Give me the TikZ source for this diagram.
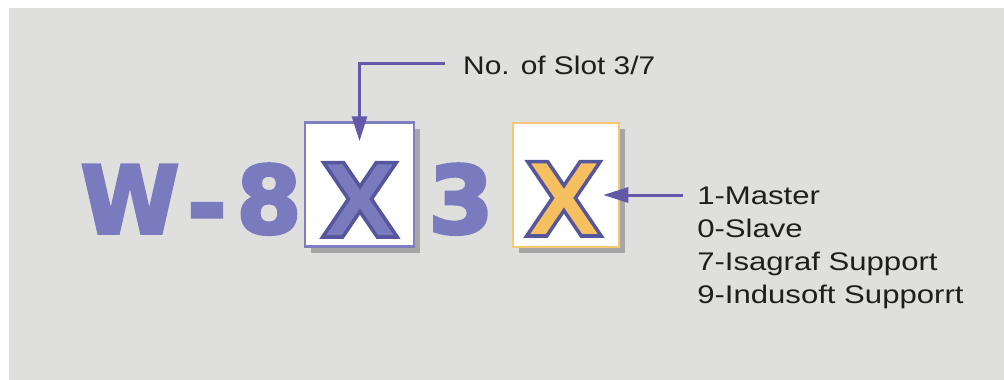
\documentclass[tikz,border=0pt]{standalone}
\usepackage{fontspec}
\setmainfont{Liberation Sans}
\newfontfamily\heavyfont{DejaVu Sans}
\usetikzlibrary{arrows.meta,shadows}
\definecolor{bg}{HTML}{DFDFDD}
\definecolor{blu}{HTML}{7A7ABE}
\definecolor{bluline}{HTML}{56569C}
\definecolor{bluborder}{HTML}{7E7EC0}
\definecolor{orfill}{HTML}{F6BF60}
\definecolor{orline}{HTML}{F7C873}
\definecolor{arrowc}{HTML}{6459A8}
\definecolor{shadowc}{HTML}{A6A6A6}
\definecolor{txt}{HTML}{1E1E1E}
\newcommand{\outlined}[1]{\special{pdf:literal direct 2 Tr 3.5 w 0.337 0.337 0.612 RG}#1}
\newcommand{\heavy}[1]{\special{pdf:literal direct 2 Tr 3.5 w 0.478 0.478 0.745 RG}#1}
\begin{document}
\begin{tikzpicture}[x=1pt,y=-1pt,
  big/.style={inner sep=0pt,anchor=base,text=blu,font=\fontsize{93}{93}\selectfont\heavyfont\bfseries},
  bigx/.style={inner sep=0pt,anchor=base,font=\fontsize{102}{102}\selectfont\heavyfont\bfseries},
  slotbox/.style={minimum width=#1,minimum height=124pt,inner sep=0pt,fill=white,line width=2.5pt,
    drop shadow={shadow xshift=6pt,shadow yshift=-6pt,fill=shadowc,opacity=1}},
  lbl/.style={inner sep=0pt,anchor=base west,text=txt,font=\fontsize{25.5}{33}\selectfont,xscale=1.22},
  arr/.style={draw=arrowc,line width=3pt,-{Triangle[length=25pt,width=15pt]}}]
\useasboundingbox (0,0) rectangle (1004,380);
\fill[white] (0,0) rectangle (1004,380);
\fill[bg] (9,8) rectangle (1004,380);
% big characters
\node[big,xscale=0.96] (w) at (130,233) {\heavy{W}};
\node[big] (dash) at (207,237) {\heavy{-}};
\node[big] (eight) at (269,233) {\heavy{8}};
\node[big] (three) at (461,233) {\heavy{3}};
% boxes
\node[slotbox=109pt,draw=bluborder] (box1) at (359.5,184.5) {};
\node[slotbox=106pt,draw=orline] (box2) at (566,185) {};
\node[bigx,text=blu] (x1) at (360,237) {\outlined{X}};
\node[bigx,text=orfill] (x2) at (564,236) {\outlined{X}};
% labels
\node[lbl,xscale=0.96] (slot) at (463,74) {No. of Slot 3/7};
\node[lbl] (l1) at (697,204) {1-Master};
\node[lbl] (l2) at (697,237) {0-Slave};
\node[lbl] (l3) at (697,270) {7-Isagraf Support};
\node[lbl] (l4) at (697,303) {9-Indusoft Supporrt};
% arrows
\draw[arr] ([xshift=-18pt,yshift=1pt]slot.west) -| ([yshift=-20pt]box1.north);
\coordinate (a2) at (683,195);
\draw[arr] (a2) -- ([xshift=-17pt]a2 -| box2.east);
\end{tikzpicture}
\end{document}
